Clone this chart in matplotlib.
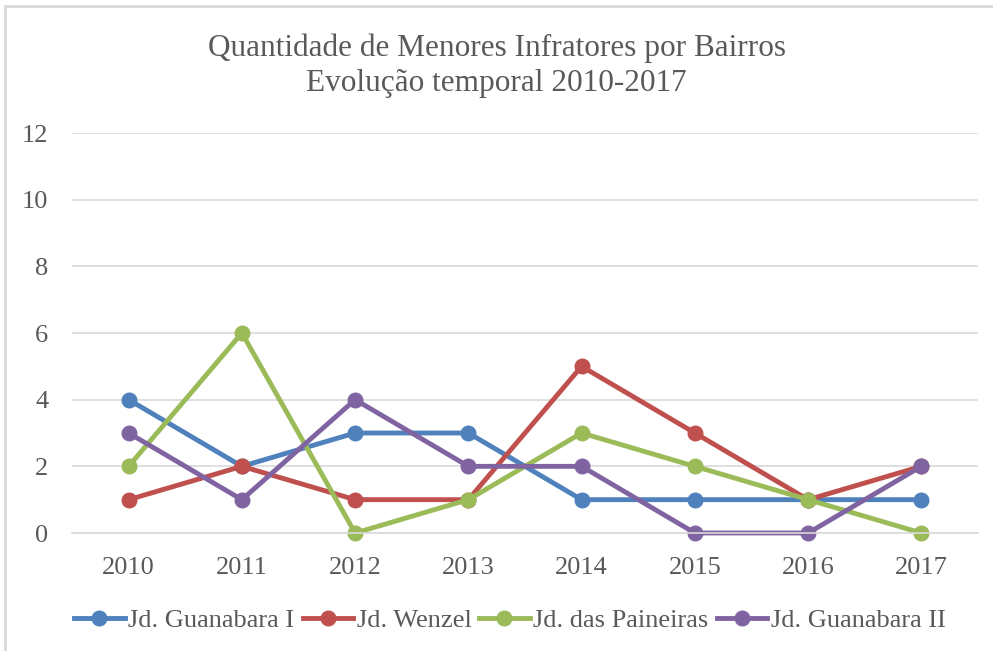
import matplotlib
matplotlib.use("Agg")
import matplotlib.pyplot as plt
from matplotlib.patches import Rectangle
from matplotlib.lines import Line2D

years = ["2010", "2011", "2012", "2013", "2014", "2015", "2016", "2017"]
guanabara_i = [4, 2, 3, 3, 1, 1, 1, 1]
wenzel = [1, 2, 1, 1, 5, 3, 1, 2]
paineiras = [2, 6, 0, 1, 3, 2, 1, 0]
guanabara_ii = [3, 1, 4, 2, 2, 0, 0, 2]
series_names = ["Jd. Guanabara I", "Jd. Wenzel", "Jd. das Paineiras", "Jd. Guanabara II"]
colors = ["#4F81BD", "#C0504D", "#9BBB59", "#8064A2"]

plt.rcParams['font.family'] = ['Liberation Serif', 'DejaVu Serif']

fig = plt.figure(figsize=(9.93, 6.51), dpi=100)
fig.patches.append(Rectangle((5/993, -0.1), 1.2, 1 - 6/651 + 0.1, transform=fig.transFigure,
                             fill=False, edgecolor="#D9D9D9", linewidth=2))
ax = fig.add_axes([72/993, 1 - 533/651, (978 - 72)/993, (533 - 133)/651])

x = list(range(len(years)))
for vals, name, c in zip([guanabara_i, wenzel, paineiras, guanabara_ii], series_names, colors):
    ax.plot(x, vals, color=c, linewidth=3.5, marker='o', markersize=10.5, label=name,
            solid_capstyle='round', solid_joinstyle='round', clip_on=False)

ax.set_xlim(-0.5, len(years) - 0.5)
ax.set_ylim(0, 12)
ax.set_yticks(range(0, 13, 2))
ax.set_xticks(x)
ax.set_xticklabels(years)
ax.grid(axis='y', color="#D9D9D9", linewidth=1.2)
ax.set_axisbelow(True)
for s in ['top', 'right', 'left']:
    ax.spines[s].set_visible(False)
ax.spines['bottom'].set_color("#D9D9D9")
ax.spines['bottom'].set_linewidth(1.2)
ax.tick_params(axis='both', length=0, labelsize=19, colors="#595959")
ax.tick_params(axis='y', pad=17)
ax.tick_params(axis='x', pad=17)

fig.text(0.5, 1 - 48/651, "Quantidade de Menores Infratores por Bairros", ha='center', va='center',
         fontsize=22.5, color="#595959")
fig.text(0.5, 1 - 83/651, "Evolução temporal 2010-2017", ha='center', va='center',
         fontsize=22.5, color="#595959")

handles = [Line2D([0], [0], color=c, linewidth=3.5, marker='o', markersize=10.5) for c in colors]
fig.legend(handles, series_names, loc='center', bbox_to_anchor=(510/993, 1 - 620/651), ncol=4,
           frameon=False, fontsize=19, labelcolor="#595959", handlelength=1.9,
           handletextpad=0.15, columnspacing=0.3)

fig.savefig("out.png", dpi=100)
